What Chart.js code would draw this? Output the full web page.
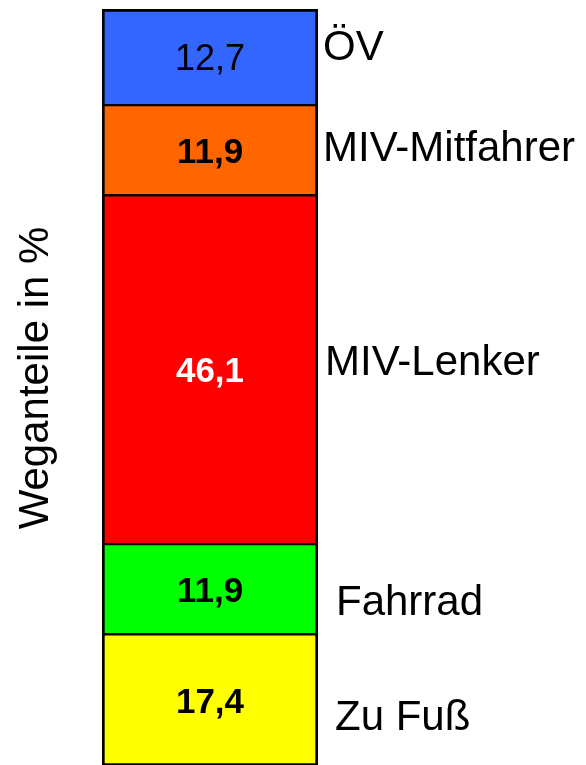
<!DOCTYPE html>
<html>
<head>
<meta charset="utf-8">
<script src="https://cdn.jsdelivr.net/npm/chart.js@4/dist/chart.umd.min.js"></script>
<style>
html,body{margin:0;padding:0;background:#fff;overflow:hidden;width:586px;height:765px;}
canvas{display:block;}
</style>
</head>
<body>
<canvas id="c" width="586" height="772"></canvas>
<script>
// Data (bottom to top of the stacked bar)
const categories = ["Wege"];
const modes = ["Zu Fuß", "Fahrrad", "MIV-Lenker", "MIV-Mitfahrer", "ÖV"];
const shares = [17.4, 11.9, 46.1, 11.9, 12.7];
const valueLabels = ["17,4", "11,9", "46,1", "11,9", "12,7"];
const axisTitle = "Weganteile in %";

const colors = ["#FFFF00", "#00FF00", "#FF0000", "#FF6600", "#3366FF"];
const valueColors = ["#000", "#000", "#fff", "#000", "#000"];
const valueWeights = ["bold", "bold", "bold", "bold", "normal"];
const labelX = [335, 336, 325, 323, 323];
const labelY = [718, 603, 363, 149, 48];

const datasets = modes.map((m, i) => ({
  label: m,
  data: [shares[i]],
  backgroundColor: colors[i],
  borderColor: "#000",
  borderWidth: {
    left: 3, right: 3,
    top: i === modes.length - 1 ? 3 : 1.5,
    bottom: i === 0 ? 3 : 1.5
  },
  borderSkipped: false,
  barPercentage: 1,
  categoryPercentage: 1
}));

const textPlugin = {
  id: "texts",
  afterDatasetsDraw(chart) {
    const ctx = chart.ctx;
    ctx.save();
    chart.data.datasets.forEach((ds, i) => {
      const bar = chart.getDatasetMeta(i).data[0];
      const cy = (bar.y + bar.base) / 2;
      ctx.fillStyle = valueColors[i];
      ctx.font = valueWeights[i] + " " + (valueWeights[i] === "bold" ? 35 : 36) + "px 'Liberation Sans', Arial, sans-serif";
      ctx.textAlign = "center";
      ctx.textBaseline = "middle";
      ctx.fillText(valueLabels[i], bar.x, cy + 3);
      ctx.fillStyle = "#000";
      ctx.font = "42px 'Liberation Sans', Arial, sans-serif";
      ctx.textAlign = "left";
      ctx.fillText(ds.label, labelX[i], labelY[i]);
    });
    // axis title
    ctx.translate(48, 378);
    ctx.rotate(-Math.PI / 2);
    ctx.font = "42px 'Liberation Sans', Arial, sans-serif";
    ctx.textAlign = "center";
    ctx.textBaseline = "alphabetic";
    ctx.fillStyle = "#000";
    ctx.fillText(axisTitle, 0, 0);
    ctx.restore();
  }
};

new Chart(document.getElementById("c"), {
  type: "bar",
  data: { labels: categories, datasets },
  options: {
    responsive: false,
    animation: false,
    layout: { padding: { left: 102, right: 268, top: 9, bottom: 6 } },
    plugins: { legend: { display: false }, tooltip: { enabled: false } },
    scales: {
      x: { stacked: true, display: false },
      y: { stacked: true, display: false, min: 0, max: 100 }
    }
  },
  plugins: [textPlugin]
});
</script>
</body>
</html>
